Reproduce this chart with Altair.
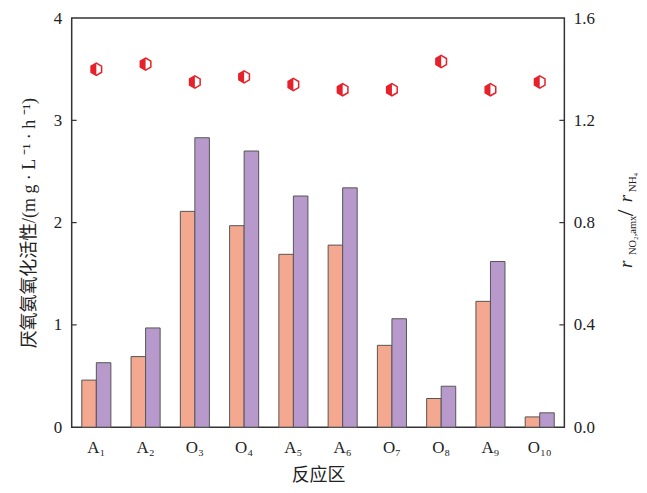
import altair as alt
import pandas as pd

categories = ["A₁", "A₂", "O₃", "O₄", "A₅", "A₆", "O₇", "O₈", "A₉", "O₁₀"]
activity_a = [0.46, 0.69, 2.11, 1.97, 1.69, 1.78, 0.80, 0.28, 1.23, 0.10]
activity_b = [0.63, 0.97, 2.83, 2.70, 2.26, 2.34, 1.06, 0.40, 1.62, 0.14]
ratio = [1.40, 1.42, 1.35, 1.37, 1.34, 1.32, 1.32, 1.43, 1.32, 1.35]
left_ticks = [0, 1, 2, 3, 4]
right_ticks = [0.0, 0.4, 0.8, 1.2, 1.6]
series = ["a", "b"]

ORANGE = "#F4A88F"
PURPLE = "#B79ACB"
RED = "#E62129"
SERIF = "Liberation Serif"
CJK = "Liberation Serif, Noto Sans CJK SC"

bars_df = pd.DataFrame({
    "zone": categories * 2,
    "series": [series[0]] * len(categories) + [series[1]] * len(categories),
    "value": activity_a + activity_b,
})
ratio_df = pd.DataFrame({"zone": categories, "ratio": ratio})
lt_df = pd.DataFrame({"t": left_ticks[1:-1]})
rt_df = pd.DataFrame({"t": right_ticks[1:-1]})

W, H = 495, 411
xscale = alt.Scale(domain=categories, paddingInner=0.41, paddingOuter=0.205)
yl = alt.Scale(domain=[0, 4], nice=False)
yr = alt.Scale(domain=[0, 1.6], nice=False)

x_axis = alt.Axis(title="反应区", labelAngle=0, ticks=False, domain=False, grid=False,
                  labelFont=SERIF, labelFontSize=17, labelPadding=12,
                  titleFont=CJK, titleFontSize=18, titlePadding=12)

bars = alt.Chart(bars_df).mark_bar(stroke="#555", strokeWidth=1).encode(
    x=alt.X("zone:N", sort=categories, scale=xscale, axis=x_axis),
    xOffset=alt.XOffset("series:N", sort=series),
    y=alt.Y("value:Q", scale=yl, axis=alt.Axis(
        title="厌氧氨氧化活性/(m g · L ⁻¹ · h ⁻¹)", values=left_ticks, format="d",
        tickSize=0, domain=False, grid=False, labelPadding=10, titleFont=CJK,
        titleFontSize=18, titlePadding=15)),
    color=alt.Color("series:N", scale=alt.Scale(domain=series, range=[ORANGE, PURPLE]), legend=None),
)

HEX = "M0,-1 L0.866,-0.5 L0.866,0.5 L0,1 L-0.866,0.5 L-0.866,-0.5 Z"
HALF = "M0,-1 L-0.866,-0.5 L-0.866,0.5 L0,1 Z"

outline = alt.Chart(ratio_df).mark_point(
    shape=HEX, size=150, filled=True, fill="white", stroke=RED, strokeWidth=1.5, opacity=1
).encode(
    x=alt.X("zone:N", sort=categories, scale=xscale, axis=x_axis),
    y=alt.Y("ratio:Q", scale=yr, axis=alt.Axis(
        orient="right", title=None, values=right_ticks, format=".1f",
        tickSize=0, domain=False, grid=False, labelPadding=9)),
)
half = alt.Chart(ratio_df).mark_point(
    shape=HALF, size=150, filled=True, color=RED, opacity=1
).encode(
    x=alt.X("zone:N", sort=categories, scale=xscale, axis=x_axis),
    y=alt.Y("ratio:Q", scale=yr, axis=None),
)

ltick = alt.Chart(lt_df).mark_rule(color="#333", strokeWidth=1.2).encode(
    y=alt.Y("t:Q", scale=yl, axis=None), x=alt.value(0), x2=alt.value(5))
rtick = alt.Chart(rt_df).mark_rule(color="#333", strokeWidth=1.2).encode(
    y=alt.Y("t:Q", scale=yr, axis=None), x=alt.value(W - 5), x2=alt.value(W))

def piece(txt, x, y, size, italic=False):
    kw = dict(angle=270, align="left", baseline="alphabetic", font=SERIF,
              fontSize=size, color="#222")
    if italic:
        kw["fontStyle"] = "italic"
    return alt.Chart(pd.DataFrame({"s": [txt]})).mark_text(**kw).encode(
        text="s:N", x=alt.value(x), y=alt.value(y))

title_r = alt.layer(
    piece("r", 563, 251, 19, True),
    piece("NO₂,amx", 567, 238, 10.5),
    piece("/", 564, 199, 24),
    piece("r", 563, 185, 19, True),
    piece("NH₄", 567, 175, 11),
)

chart = alt.layer(bars, outline, half, ltick, rtick, title_r).resolve_scale(
    y="independent"
).properties(
    width=W, height=H,
    padding={"left": 64, "top": 9, "right": 75, "bottom": 57},
    autosize=alt.AutoSizeParams(type="none"),
).configure_view(stroke="#333", strokeWidth=1.5).configure_axis(
    labelFont=SERIF, labelFontSize=17, labelColor="#222", grid=False,
    titleColor="#222", titleFontWeight="normal",
)

chart.save("out.html", embed_options={"renderer": "svg", "actions": False})
